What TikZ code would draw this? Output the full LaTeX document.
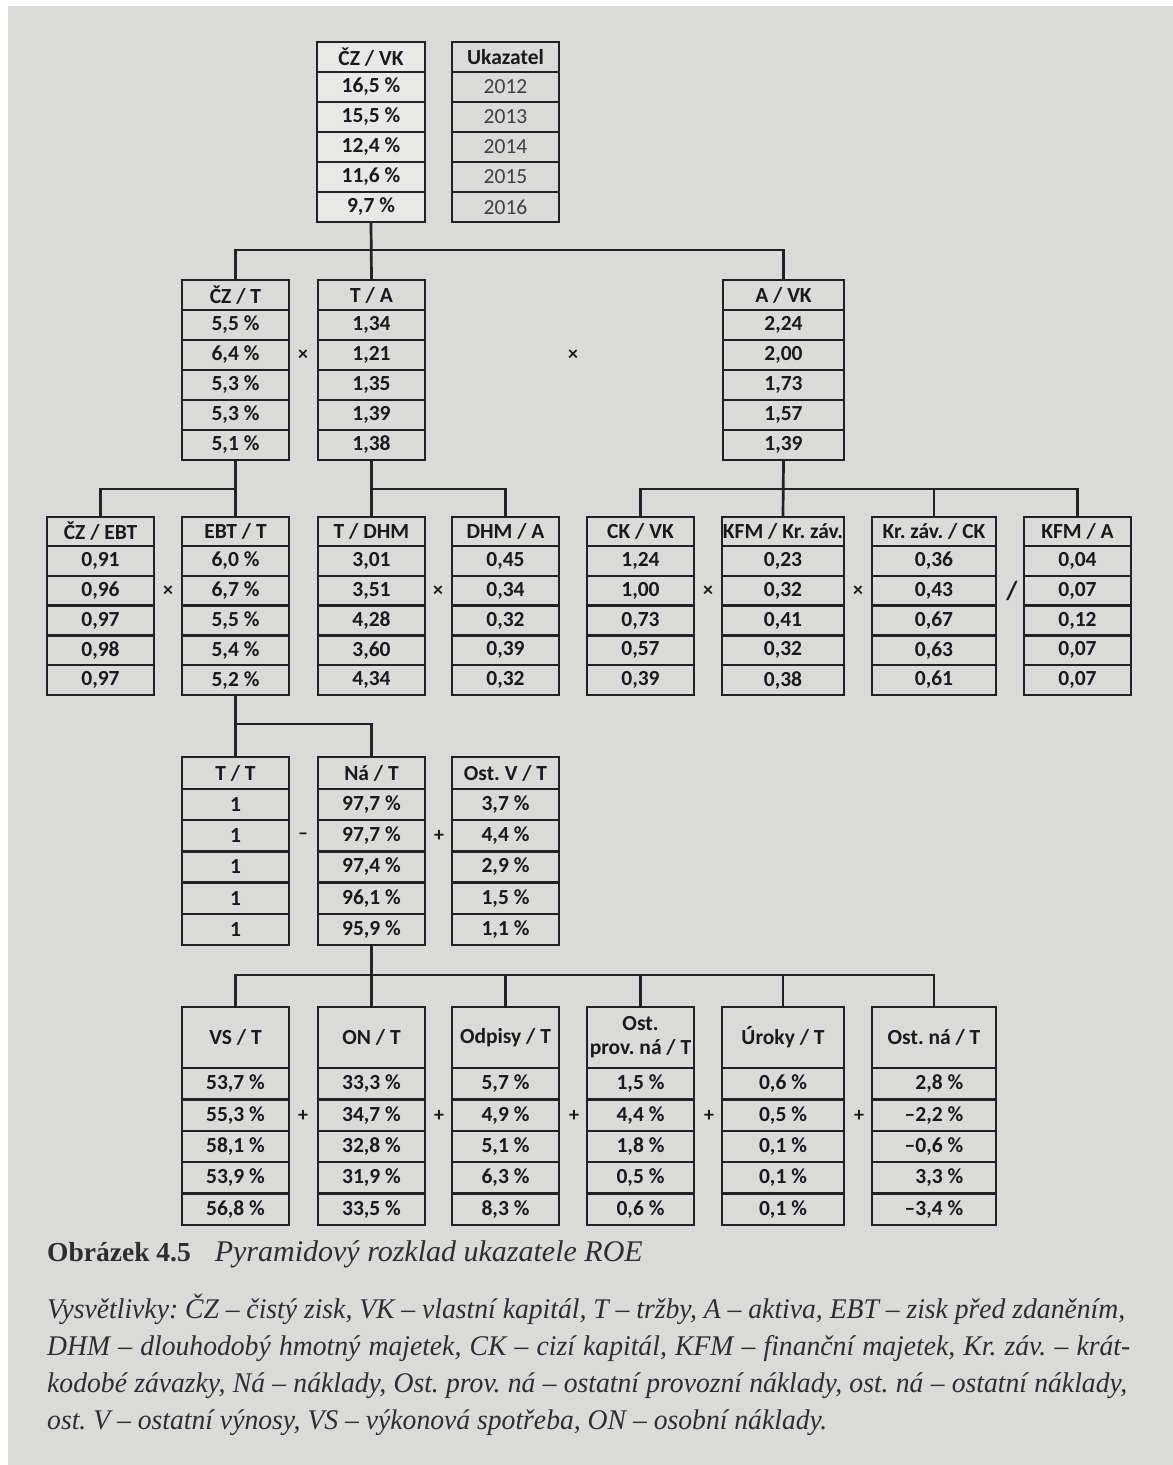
\documentclass[tikz,border=0pt]{standalone}
\usepackage{fontspec}
\setmainfont{Carlito}
\newfontfamily\capfont{Liberation Serif}
\newfontfamily\legfont[FakeStretch=0.97]{Liberation Serif}
\definecolor{bg}{HTML}{DADAD8}
\definecolor{lite}{HTML}{E8E8E6}
\definecolor{linec}{HTML}{222222}
\definecolor{txt}{HTML}{1A1A1A}
\definecolor{ukc}{HTML}{404040}
\definecolor{captxt}{HTML}{2E2E2E}
\newcommand\tbl[9]{%
  \node[cell,#9,minimum width=#3pt,minimum height=#5pt] (#1-0) at (#2,{#4+#5/2}) {#6};
  \foreach \v [count=\i] in {#7}{%
    \node[cell,#9,minimum width=#3pt,minimum height=#8pt] (#1-\i) at (#2,{#4+#5+(\i-0.5)*#8}) {\v};
  }}
\newcommand\uk[1]{{\mdseries\color{ukc}#1}}
\frenchspacing
\begin{document}
\begin{tikzpicture}[x=1pt,y=-1pt,
  cell/.style={draw=linec, line width=2.4pt, inner sep=0pt, align=center,
    font=\fontsize{21.5}{26}\selectfont\bfseries, text=txt},
  conn/.style={draw=linec, line width=2.7pt},
  sign/.style={font=\fontsize{20}{24}\selectfont\bfseries, text=txt, inner sep=0pt},
  capt/.style={anchor=base west, inner sep=0pt, text=captxt, font=\legfont\fontsize{28.5}{32}\selectfont}]
\fill[white] (0,0) rectangle (1173,1465);
\fill[bg] (8,6) rectangle (1173,1465);
\useasboundingbox (0,0) rectangle (1173,1465);

% level 1
\tbl{czvk}{371}{108}{42}{30}{ČZ / VK}{{16,5 \%},{15,5 \%},{12,4 \%},{11,6 \%},{9,7 \%}}{30}{fill=lite}
\tbl{ukaz}{505.5}{107}{42}{30}{Ukazatel}{\uk{2012},\uk{2013},\uk{2014},\uk{2015},\uk{2016}}{30}{}

% level 2
\tbl{czt}{235.5}{107}{280}{30}{ČZ / T}{{5,5 \%},{6,4 \%},{5,3 \%},{5,3 \%},{5,1 \%}}{30}{}
\tbl{ta}{371.5}{107}{280}{30}{T / A}{{1,34},{1,21},{1,35},{1,39},{1,38}}{30}{}
\tbl{avk}{783.5}{121}{280}{30}{A / VK}{{2,24},{2,00},{1,73},{1,57},{1,39}}{30}{}
\node[sign] (s21) at (303,355) {×};
\node[sign] (s22) at (573,355) {×};

% level 3
\tbl{czebt}{100.5}{107}{517}{29}{ČZ / EBT}{{0,91},{0,96},{0,97},{0,98},{0,97}}{29.8}{}
\tbl{ebtt}{235.5}{107}{517}{29}{EBT / T}{{6,0 \%},{6,7 \%},{5,5 \%},{5,4 \%},{5,2 \%}}{29.8}{}
\tbl{tdhm}{371.5}{107}{517}{29}{T / DHM}{{3,01},{3,51},{4,28},{3,60},{4,34}}{29.8}{}
\tbl{dhma}{505.5}{107}{517}{29}{DHM / A}{{0,45},{0,34},{0,32},{0,39},{0,32}}{29.8}{}
\tbl{ckvk}{640.5}{107}{517}{29}{CK / VK}{{1,24},{1,00},{0,73},{0,57},{0,39}}{29.8}{}
\tbl{kfmkr}{783}{122}{517}{29}{KFM / Kr. záv.}{{0,23},{0,32},{0,41},{0,32},{0,38}}{29.8}{}
\tbl{krck}{934}{124}{517}{29}{Kr. záv. / CK}{{0,36},{0,43},{0,67},{0,63},{0,61}}{29.8}{}
\tbl{kfma}{1077.5}{107}{517}{29}{KFM / A}{{0,04},{0,07},{0,12},{0,07},{0,07}}{29.8}{}
\node[sign] (s31) at (168,591) {×};
\node[sign] (s32) at (438,591) {×};
\node[sign] (s33) at (708,591) {×};
\node[sign] (s34) at (858,591) {×};
\node[sign, font=\fontsize{26}{30}\selectfont\bfseries] (s35) at (1012,591) {/};

% level 4
\tbl{tt}{235.5}{107}{757}{32}{T / T}{1,1,1,1,1}{31.2}{}
\tbl{nat}{371.5}{107}{757}{32}{Ná / T}{{97,7 \%},{97,7 \%},{97,4 \%},{96,1 \%},{95,9 \%}}{31.2}{}
\tbl{ostv}{505.5}{107}{757}{32}{Ost. V / T}{{3,7 \%},{4,4 \%},{2,9 \%},{1,5 \%},{1,1 \%}}{31.2}{}
\node[sign] (s41) at (303,836) {–};
\node[sign] (s42) at (439,836) {+};

% level 5
\tbl{vs}{235.5}{107}{1007}{61}{VS / T}{{53,7 \%},{55,3 \%},{58,1 \%},{53,9 \%},{56,8 \%}}{31.4}{}
\tbl{on}{371.5}{107}{1007}{61}{ON / T}{{33,3 \%},{34,7 \%},{32,8 \%},{31,9 \%},{33,5 \%}}{31.4}{}
\tbl{odp}{505.5}{107}{1007}{61}{Odpisy / T}{{5,7 \%},{4,9 \%},{5,1 \%},{6,3 \%},{8,3 \%}}{31.4}{}
\tbl{ostprov}{640.5}{107}{1007}{61}{Ost.\\[-2pt]prov. ná / T}{{1,5 \%},{4,4 \%},{1,8 \%},{0,5 \%},{0,6 \%}}{31.4}{}
\tbl{uroky}{783}{122}{1007}{61}{Úroky / T}{{0,6 \%},{0,5 \%},{0,1 \%},{0,1 \%},{0,1 \%}}{31.4}{}
\tbl{ostna}{934}{124}{1007}{61}{Ost. ná / T}{{\phantom{–}2,8 \%},{–2,2 \%},{–0,6 \%},{\phantom{–}3,3 \%},{–3,4 \%}}{31.4}{}
\node[sign] (s51) at (303,1116) {+};
\node[sign] (s52) at (439,1116) {+};
\node[sign] (s53) at (574,1116) {+};
\node[sign] (s54) at (709,1116) {+};
\node[sign] (s55) at (859,1116) {+};

% connectors
\coordinate (j1) at (371,250);
\draw[conn] (czvk-5.south) -- (ta-0.north);
\draw[conn] (czt-0.north) |- (j1) -| (avk-0.north);

\coordinate (j2) at (235.5,489);
\draw[conn] (czt-5.south) -- (ebtt-0.north);
\draw[conn] (czebt-0.north) |- (j2);
\coordinate (j3) at (371.5,489);
\draw[conn] (ta-5.south) -- (tdhm-0.north);
\draw[conn] (j3) -| (dhma-0.north);
\coordinate (j4) at (783.5,489);
\draw[conn] (avk-5.south) -- (kfmkr-0.north);
\draw[conn] (ckvk-0.north) |- (j4) -| (kfma-0.north);
\draw[conn] (krck-0.north) -- (krck-0.north |- j4);

\coordinate (j5) at (235.5,724);
\draw[conn] (ebtt-5.south) -- (tt-0.north);
\draw[conn] (j5) -| (nat-0.north);

\coordinate (j6) at (371.5,975);
\draw[conn] (nat-5.south) -- (on-0.north);
\draw[conn] (vs-0.north) |- (j6) -| (ostna-0.north);
\draw[conn] (odp-0.north) -- (odp-0.north |- j6);
\draw[conn] (ostprov-0.north) -- (ostprov-0.north |- j6);
\draw[conn] (uroky-0.north) -- (uroky-0.north |- j6);

% caption
\node[capt, font=\capfont\fontsize{27.5}{30}\selectfont] (cap) at (47,1261) {\textbf{Obrázek 4.5}\hspace{24pt}{\fontsize{30}{32}\selectfont\itshape Pyramidový rozklad ukazatele ROE}};
\node[capt] (l1) at (47,1318) {\itshape\makebox[1078pt][s]{Vysvětlivky: ČZ – čistý zisk, VK – vlastní kapitál, T – tržby, A – aktiva, EBT – zisk před zdaněním,}};
\node[capt] (l2) at (47,1355) {\itshape\makebox[1083pt][s]{DHM – dlouhodobý hmotný majetek, CK – cizí kapitál, KFM – finanční majetek, Kr. záv. – krát-}};
\node[capt] (l3) at (47,1392) {\itshape\makebox[1080pt][s]{kodobé závazky, Ná – náklady, Ost. prov. ná – ostatní provozní náklady, ost. ná – ostatní náklady,}};
\node[capt] (l4) at (47,1429) {\itshape ost. V – ostatní výnosy, VS – výkonová spotřeba, ON – osobní náklady.};
\end{tikzpicture}
\end{document}
